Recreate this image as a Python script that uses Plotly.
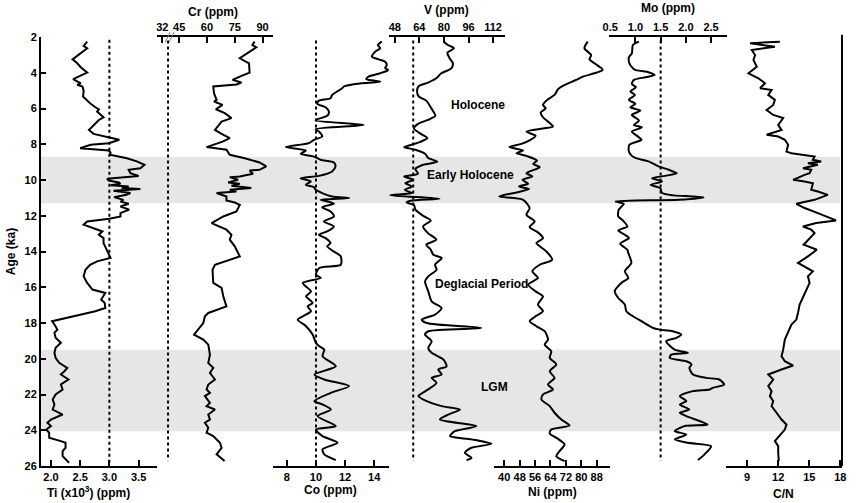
import plotly.graph_objects as go

# Ti (x10^3 ppm) vs age (ka)
ti_age = [2.26, 2.50, 2.63, 3.25, 3.47, 3.69, 3.99, 4.22, 4.36, 4.59, 4.68, 4.77, 5.00, 5.33, 5.56,
          5.74, 5.93, 6.04, 6.17, 6.49, 6.64, 6.86, 7.20, 7.42, 7.61, 7.75, 7.94, 8.03, 8.22, 8.35,
          8.46, 8.59, 8.78, 8.96, 9.15, 9.34, 9.43, 9.62, 9.77, 9.84, 9.93, 10.03, 10.14, 10.21,
          10.29, 10.36, 10.45, 10.51, 10.60, 10.73, 10.83, 10.96, 11.11, 11.20, 11.33, 11.48,
          11.66, 11.85, 12.04, 12.17, 12.32, 12.50, 12.69, 12.88, 13.06, 13.25, 13.53, 13.90,
          14.36, 14.55, 14.74, 15.02, 15.39, 15.76, 16.13, 16.32, 16.51, 16.69, 16.88, 17.16,
          17.34, 17.59, 17.77, 17.90, 18.09, 18.37, 18.55, 18.83, 19.11, 19.39, 19.67, 19.95,
          20.23, 20.51, 20.70, 20.88, 21.16, 21.44, 21.72, 22.00, 22.28, 22.56, 22.84, 23.12,
          23.40, 23.58, 23.77, 23.96, 24.14, 24.42, 24.61, 24.70, 24.98, 25.17, 25.45, 25.72, 25.82]
ti = [2.62, 2.56, 2.62, 2.37, 2.45, 2.51, 2.62, 2.48, 2.38, 2.51, 2.45, 2.54, 2.56, 2.55, 2.62,
      2.68, 2.76, 2.82, 2.79, 2.90, 2.82, 2.76, 2.65, 2.73, 2.96, 3.17, 2.99, 2.68, 2.50, 2.99,
      3.02, 3.01, 3.30, 3.47, 3.60, 3.53, 3.33, 3.36, 3.50, 3.31, 2.96, 2.99, 3.16, 3.19,
      3.02, 3.33, 3.21, 3.53, 3.07, 3.36, 3.29, 3.08, 3.24, 3.19, 3.33, 3.19,
      3.34, 3.19, 3.19, 3.00, 2.62, 2.56, 2.73, 2.88, 2.82, 2.90, 2.90, 2.96,
      3.02, 2.79, 2.67, 2.59, 2.56, 2.62, 2.71, 2.93, 2.90, 2.86, 2.92, 2.93,
      2.76, 2.45, 2.20, 2.02, 2.06, 2.11, 2.06, 2.08, 2.17, 2.08, 2.06, 2.08,
      2.14, 2.28, 2.23, 2.17, 2.30, 2.17, 2.20, 2.08, 2.03, 2.06, 2.03, 2.20,
      2.00, 1.94, 2.00, 1.92, 1.97, 1.97, 2.17, 2.25, 2.25, 2.20, 2.20, 2.27, 2.31]

# Cr (ppm)
cr_age = [2.26, 2.45, 2.58, 3.19, 3.47, 3.99, 4.22, 4.40, 4.55, 4.66, 4.77, 5.15, 5.52, 5.61, 5.80,
          6.04, 6.26, 6.54, 6.73, 7.20, 7.42, 7.66, 7.85, 8.16, 8.31, 8.59, 8.78, 9.02, 9.24, 9.43,
          9.47, 9.65, 9.80, 9.84, 9.99, 10.14, 10.21, 10.32, 10.45, 10.55, 10.64, 10.73, 10.92,
          11.14, 11.26, 11.39, 11.76, 12.04, 12.41, 12.78, 13.06, 13.34, 13.71, 14.27, 14.74,
          15.02, 15.76, 16.04, 16.51, 17.07, 17.44, 17.62, 18.00, 18.22, 18.46, 18.65, 18.93,
          19.21, 19.77, 20.23, 20.51, 20.79, 21.16, 21.44, 21.72, 21.91, 22.09, 22.47, 22.65,
          22.84, 23.12, 23.40, 23.58, 23.86, 24.14, 24.33, 24.70, 24.98, 25.35, 25.72]
cr = [85.7, 84.5, 86.6, 77.7, 82.7, 83.0, 77.7, 73.8, 78.6, 75.9, 63.4, 63.8, 65.2, 63.8, 68.4,
      64.8, 69.6, 73.2, 67.9, 64.3, 67.9, 72.3, 68.4, 59.8, 70.5, 72.3, 80.4, 88.4, 92.0, 88.4,
      83.0, 84.8, 77.7, 72.3, 76.8, 71.4, 77.7, 73.2, 83.9, 72.3, 75.9, 65.2, 70.5,
      70.5, 75.0, 77.7, 75.9, 68.8, 62.5, 70.5, 73.2, 72.3, 75.0, 77.7, 64.3,
      63.0, 63.4, 67.9, 68.8, 70.5, 60.7, 58.9, 58.0, 56.3, 54.5, 53.0, 58.0,
      60.7, 61.6, 60.7, 63.4, 61.6, 64.3, 60.7, 59.8, 61.6, 58.9, 61.6, 59.8,
      64.3, 60.7, 61.6, 58.9, 60.7, 59.8, 63.4, 67.0, 67.9, 65.2, 69.5]

# Co (ppm)
co_age = [2.26, 2.45, 2.63, 2.82, 3.10, 3.25, 3.38, 3.56, 3.75, 3.84, 4.03, 4.22, 4.36, 4.50, 4.64,
          4.77, 4.87, 5.05, 5.24, 5.43, 5.56, 5.74, 5.93, 6.17, 6.41, 6.60, 6.67, 6.92, 7.16, 7.29,
          7.57, 7.75, 7.94, 8.16, 8.35, 8.54, 8.69, 8.87, 9.02, 9.24, 9.52, 9.77, 9.90, 10.08,
          10.27, 10.40, 10.55, 10.73, 10.92, 11.01, 11.11, 11.20, 11.33, 11.52, 11.76, 12.04,
          12.32, 12.60, 12.88, 13.06, 13.25, 13.53, 13.71, 13.94, 14.27, 14.74, 14.92, 15.30,
          15.48, 15.76, 16.23, 16.51, 16.88, 17.07, 17.34, 17.81, 18.18, 18.65, 19.11, 19.30,
          19.49, 19.86, 20.42, 20.88, 21.16, 21.53, 21.91, 22.37, 22.56, 22.84, 23.21, 23.77,
          23.96, 24.33, 24.70, 25.07, 25.35, 25.67]
co = [14.52, 14.25, 14.41, 14.07, 13.84, 14.30, 14.75, 14.86, 14.75, 14.98, 14.41, 13.61, 13.45,
      14.41, 12.59, 11.91, 11.80, 11.45, 11.11, 11.00, 10.20, 10.09, 10.66, 10.89, 10.77, 10.09,
      9.98, 13.27, 9.98, 10.20, 10.43, 9.86, 9.52, 7.93, 9.30, 8.95, 9.86, 10.32, 11.23, 11.34,
      11.11, 10.20, 8.95, 9.64, 9.30, 9.86, 9.98, 10.43, 11.11, 12.30, 10.32, 10.77, 11.23,
      10.43, 11.00, 11.23, 10.55, 11.23, 10.77, 10.20, 10.66, 11.00, 10.77, 11.11, 11.70, 11.70,
      10.23, 10.00, 10.34, 9.09, 9.66, 9.32, 9.77, 9.43, 9.66, 8.75, 9.32, 9.77, 10.00, 10.23,
      10.57, 10.45, 11.36, 9.89, 10.57, 12.27, 11.02, 9.89, 10.45, 11.02, 10.11, 11.36,
      10.00, 10.45, 11.48, 10.45, 10.57, 11.36]

# V (ppm)
v_age = [2.26, 2.45, 2.63, 2.88, 3.19, 3.47, 3.75, 4.03, 4.31, 4.55, 4.74, 5.05, 5.33, 5.56, 5.99,
         6.41, 6.64, 6.86, 7.12, 7.38, 7.66, 7.88, 8.03, 8.16, 8.31, 8.54, 8.76, 8.98, 9.15, 9.39,
         9.65, 9.80, 9.99, 10.18, 10.36, 10.55, 10.73, 10.85, 11.05, 11.16, 11.26, 11.40, 11.66,
         12.00, 12.26, 12.60, 12.97, 13.34, 13.62, 13.90, 14.18, 14.36, 14.74, 15.02, 15.39,
         15.67, 16.23, 16.79, 17.16, 17.53, 17.81, 18.00, 18.28, 18.46, 18.65, 19.02, 19.39,
         19.67, 20.04, 20.42, 20.60, 20.88, 21.07, 21.35, 22.00, 22.09, 22.37, 22.65, 22.84,
         23.12, 23.40, 23.77, 24.05, 24.33, 24.51, 24.76, 24.98, 25.26, 25.54, 25.67]
v = [80.0, 82.6, 86.5, 82.2, 83.7, 85.8, 84.8, 78.3, 75.0, 69.6, 63.6, 62.5, 63.6, 68.5, 71.8,
     74.4, 69.6, 63.1, 60.5, 64.2, 69.2, 64.2, 58.8, 54.1, 61.4, 67.9, 69.6, 75.7, 66.4, 61.4,
     63.1, 54.1, 59.9, 54.9, 59.2, 54.5, 59.2, 45.0, 77.2, 58.4, 55.6, 60.5, 61.4,
     66.4, 71.4, 66.4, 69.6, 75.0, 68.5, 71.4, 73.1, 78.5, 74.2, 75.2, 69.8,
     67.7, 69.8, 72.0, 78.5, 74.2, 65.5, 68.8, 104.4, 69.8, 67.7, 72.0, 69.8,
     72.0, 79.6, 81.7, 76.3, 78.5, 72.0, 75.2, 64.4, 63.4, 68.8, 78.5, 90.4,
     82.8, 77.4, 101.2, 87.1, 83.9, 97.9, 110.9, 97.9, 93.6, 97.9, 94.7]

# Ni (ppm)
ni_age = [2.26, 2.63, 3.01, 3.25, 3.47, 3.84, 4.03, 4.22, 4.40, 4.74, 4.92, 5.24, 5.48, 5.80, 5.99,
          6.23, 6.49, 7.01, 7.12, 7.29, 7.53, 7.75, 7.98, 8.16, 8.35, 8.50, 8.65, 8.91, 9.10, 9.28,
          9.62, 9.80, 9.99, 10.21, 10.36, 10.51, 10.70, 10.92, 11.11, 11.57, 11.94, 12.32, 12.63,
          12.93, 13.25, 13.53, 13.99, 14.46, 14.74, 15.11, 15.48, 15.85, 16.23, 16.51, 16.97,
          17.34, 17.66, 17.90, 18.18, 18.46, 18.93, 19.21, 19.58, 19.95, 20.32, 20.70, 21.07,
          21.44, 21.72, 22.00, 22.28, 22.65, 23.02, 23.40, 23.73, 23.96, 24.18, 24.48, 24.79,
          25.17, 25.45, 25.72]
ni = [83.3, 81.6, 85.1, 84.2, 86.8, 91.1, 86.8, 80.8, 77.3, 70.4, 67.9, 66.1, 62.7, 60.1, 61.5,
      58.9, 60.1, 65.3, 60.1, 51.5, 56.3, 53.6, 48.9, 42.6, 49.8, 46.4, 51.5, 57.0, 55.0, 58.4,
      51.5, 54.6, 49.5, 52.4, 47.7, 52.9, 46.4, 37.4, 49.8, 53.2, 51.5, 55.8, 53.2,
      57.5, 60.1, 56.7, 61.8, 64.9, 58.4, 54.6, 57.5, 52.4, 56.3, 60.1, 57.5,
      60.1, 55.8, 53.2, 56.7, 61.0, 62.7, 61.0, 64.4, 63.6, 67.0, 63.6, 66.1,
      62.7, 65.3, 60.1, 59.3, 63.6, 66.1, 69.6, 73.9, 64.4, 63.6, 67.9, 71.3,
      68.7, 67.0, 71.3]

# Mo (ppm)
mo_age = [2.26, 2.45, 2.91, 3.14, 3.47, 3.69, 3.84, 3.94, 4.12, 4.25, 4.40, 4.63, 4.81, 5.05, 5.24,
          5.52, 5.74, 5.93, 6.12, 6.36, 6.67, 6.92, 7.05, 7.29, 7.53, 7.75, 8.03, 8.41, 8.65, 8.78,
          8.96, 9.24, 9.43, 9.62, 9.77, 9.90, 10.08, 10.27, 10.45, 10.73, 10.86, 10.92, 10.98,
          11.11, 11.20, 11.33, 11.66, 12.04, 12.26, 12.60, 12.82, 13.06, 13.25, 13.56, 13.90,
          14.09, 14.64, 15.11, 15.48, 15.76, 16.23, 16.60, 16.97, 17.34, 17.62, 17.90, 18.28,
          18.37, 18.46, 18.65, 18.83, 19.02, 19.49, 19.67, 19.77, 19.95, 20.14, 20.32, 20.51,
          20.88, 21.07, 21.16, 21.44, 21.63, 21.72, 21.81, 22.09, 22.37, 22.56, 22.84, 23.02,
          23.21, 23.68, 23.77, 24.05, 24.24, 24.51, 24.70, 24.89, 25.35, 25.67]
mo = [1.07, 0.95, 0.93, 0.87, 0.88, 0.93, 0.99, 1.23, 1.38, 1.20, 0.97, 0.93, 1.01, 0.90, 0.99,
      0.87, 1.00, 0.90, 1.10, 0.93, 1.07, 0.97, 1.13, 0.93, 1.03, 1.12, 0.88, 0.87, 0.93, 1.01,
      1.26, 1.46, 1.66, 1.82, 1.59, 1.33, 1.53, 1.30, 1.49, 1.53, 1.76, 2.12, 2.35,
      1.86, 0.61, 0.77, 0.67, 0.66, 0.75, 0.84, 0.66, 0.79, 0.87, 0.70, 0.84,
      0.86, 0.92, 0.79, 0.86, 0.72, 0.59, 0.66, 0.79, 0.82, 0.95, 1.12, 1.35,
      1.48, 1.74, 1.91, 1.81, 1.61, 1.78, 2.04, 1.71, 1.68, 2.01, 2.11, 2.07,
      2.14, 2.40, 2.66, 2.76, 2.53, 2.47, 2.14, 1.88, 2.01, 1.88, 2.07, 1.88,
      2.01, 2.43, 1.97, 1.78, 2.01, 1.78, 2.04, 2.50, 2.37, 2.24]

# C/N
cn_age = [2.26, 2.35, 2.54, 2.73, 3.01, 3.28, 3.66, 4.03, 4.31, 4.59, 4.87, 4.96, 5.24, 5.52, 5.80,
          6.08, 6.36, 6.54, 6.92, 7.20, 7.47, 7.57, 7.75, 8.03, 8.41, 8.50, 8.69, 8.87, 8.96, 9.06,
          9.15, 9.24, 9.34, 9.43, 9.62, 9.71, 9.99, 10.08, 10.18, 10.55, 10.64, 10.83, 11.11,
          11.33, 11.57, 11.85, 12.26, 12.41, 12.60, 12.78, 12.97, 13.62, 13.90, 14.27, 14.64,
          15.11, 15.39, 15.76, 15.95, 16.51, 16.97, 17.44, 17.81, 18.09, 18.55, 18.93, 19.49,
          19.86, 20.14, 20.38, 20.60, 20.88, 21.16, 21.53, 21.81, 22.09, 22.37, 22.65, 23.02,
          23.40, 23.68, 23.96, 24.61, 24.89, 25.26, 25.72]
cn = [12.16, 9.29, 11.68, 9.45, 9.77, 9.61, 9.93, 9.13, 10.09, 10.72, 10.25, 11.36, 11.04, 11.68,
      11.52, 10.88, 11.52, 12.48, 12.00, 12.32, 10.88, 12.00, 12.64, 12.96, 12.80, 13.28, 15.51,
      15.35, 16.15, 14.87, 15.83, 15.19, 14.39, 15.19, 15.03, 14.55, 13.44, 14.55, 15.35, 15.19,
      15.83, 16.79, 15.51, 13.75, 14.55, 15.83, 17.58, 15.67, 14.39, 15.19, 15.51, 14.46, 15.73,
      14.87, 13.91, 15.35, 14.87, 15.03, 14.87, 14.39, 14.07, 13.91, 13.75, 13.28, 12.96, 12.64,
      12.48, 12.32, 12.64, 13.44, 12.32, 11.04, 11.52, 11.04, 11.36, 11.20, 11.52, 11.36, 11.84,
      12.32, 12.80, 12.64, 11.68, 12.00, 12.00, 12.06]

# Climate periods (ka) and reference (mean) values drawn as dotted lines
early_holocene = [8.7, 11.3]
lgm = [19.5, 24.05]
ref_values = {"x": 3.0, "x2": 39.0, "x3": 10.0, "x4": 60.0, "x6": 1.5}

font = "Arial, Liberation Sans, sans-serif"
tickfont = dict(family=font, size=11, color="black", weight="bold")

fig = go.Figure()

series = [("x", ti, ti_age, "linear"), ("x2", cr, cr_age, "linear"), ("x3", co, co_age, "spline"),
          ("x4", v, v_age, "spline"), ("x5", ni, ni_age, "spline"), ("x6", mo, mo_age, "spline"),
          ("x7", cn, cn_age, "linear")]
for ax, vals, ages, shape in series:
    fig.add_trace(go.Scatter(
        x=vals, y=ages, xaxis=ax, yaxis="y", mode="lines",
        line=dict(color="black", width=2, shape=shape, smoothing=0.7),
        showlegend=False
    ))


def xaxis(domain, rng, side, tickvals, ticktext=None):
    return dict(
        domain=domain, range=rng, side=side, anchor="y",
        showline=True, linecolor="black", linewidth=2,
        ticks="inside", ticklen=6, tickwidth=2, tickcolor="black",
        tickvals=tickvals, ticktext=ticktext, tickfont=tickfont,
        showgrid=False, zeroline=False
    )


fig.update_layout(
    width=856, height=503,
    margin=dict(l=40, r=10, t=37, b=37),
    paper_bgcolor="white", plot_bgcolor="rgba(0,0,0,0)",
    font=dict(family=font, color="black"),
    yaxis=dict(
        range=[26, 2], domain=[0, 1], tickvals=list(range(2, 27, 2)),
        showline=True, linecolor="black", linewidth=2,
        ticks="inside", ticklen=5, tickwidth=2, tickcolor="black",
        tickfont=tickfont, showgrid=False, zeroline=False,
        title=dict(text="Age (ka)", font=dict(family=font, size=12, weight="bold"), standoff=6)
    ),
    xaxis=xaxis([0, 0.1452], [1.83, 3.82], "bottom", [2.0, 2.5, 3.0, 3.5], ["2.0", "2.5", "3.0", "3.5"]),
    xaxis2=xaxis([0.1452, 0.2891], [33.2, 95.4], "top", [35.9, 45, 60, 75, 90], ["32", "45", "60", "75", "90"]),
    xaxis3=xaxis([0.2891, 0.4342], [7.02, 15.0], "bottom", [8, 10, 12, 14]),
    xaxis4=xaxis([0.4342, 0.5794], [44.1, 119.8], "top", [48, 64, 80, 96, 112]),
    xaxis5=xaxis([0.5658, 0.7109], [34.8, 95.1], "bottom", [40, 48, 56, 64, 72, 80, 88]),
    xaxis6=xaxis([0.7097, 0.8561], [0.486, 2.81], "top", [0.5, 1.0, 1.5, 2.0, 2.5], ["0.5", "1.0", "1.5", "2.0", "2.5"]),
    xaxis7=xaxis([0.8548, 1.0], [6.93, 18.16], "bottom", [9, 12, 15, 18]),
)

# Shaded climate periods
for lo, hi in [early_holocene, lgm]:
    fig.add_shape(type="rect", xref="paper", yref="y", x0=0, x1=0.9975, y0=lo, y1=hi,
                  fillcolor="#e6e6e6", line_width=0, layer="below")

# Dotted reference lines
for ax, val in ref_values.items():
    top, bottom = (2.15, 26) if ax == "x" else (2.2, 25.7)
    fig.add_shape(type="line", xref=ax, yref="y", x0=val, x1=val, y0=top, y1=bottom,
                  line=dict(color="black", width=2, dash="dot"))

# Right frame line and Cr axis break
fig.add_shape(type="line", xref="paper", yref="paper", x0=1, x1=1, y0=0, y1=1.005,
              line=dict(color="black", width=2))
for x0 in [0.1551, 0.1600]:
    fig.add_shape(type="line", xref="paper", yref="paper", x0=x0, x1=x0 + 0.0062,
                  y0=0.988, y1=1.012, line=dict(color="gray", width=1))

# Axis titles
titles = [("Ti (x10<sup>3</sup>) (ppm)", 0.0596, -0.0606), ("Cr (ppm)", 0.2146, 1.0583),
          ("Co (ppm)", 0.3611, -0.0559), ("V (ppm)", 0.5062, 1.0629), ("Ni (ppm)", 0.6390, -0.0606),
          ("Mo (ppm)", 0.7829, 1.0676), ("C/N", 0.9268, -0.0653)]
for text, x, y in titles:
    fig.add_annotation(text=text, xref="paper", yref="paper", x=x, y=y, showarrow=False,
                       xanchor="center", yanchor="middle",
                       font=dict(family=font, size=12, color="black", weight="bold"))

# Period labels
periods = [("Holocene", 0.5459, 5.8), ("Early Holocene", 0.5360, 9.74),
           ("Deglacial Period", 0.5499, 15.8), ("LGM", 0.5658, 21.6)]
for text, x, y in periods:
    fig.add_annotation(text=text, xref="paper", yref="y", x=x, y=y, showarrow=False,
                       font=dict(family=font, size=12, color="black", weight="bold"))

# page body has an 8px default margin; remove it so the figure sits at the window origin
fig.write_html("out.html", config={"displayModeBar": False},
               post_script="document.body.style.margin='0';")
